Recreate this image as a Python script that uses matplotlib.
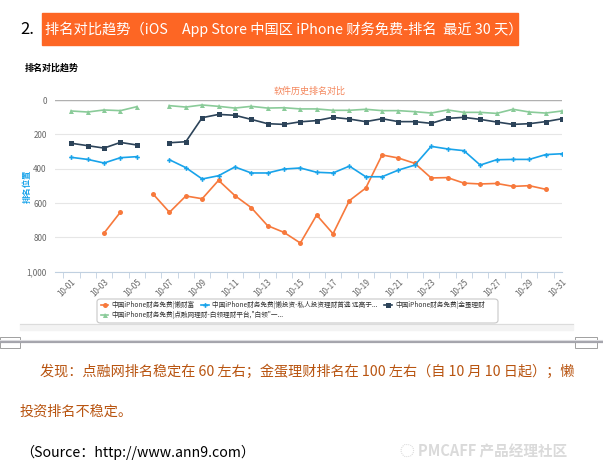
import numpy as np
import matplotlib.pyplot as plt
from matplotlib.patches import Rectangle, FancyBboxPatch
from matplotlib.lines import Line2D

plt.rcParams['font.family'] = ['Noto Sans CJK SC', 'DejaVu Sans']

# 数据：10-01 到 10-31 的排名（None 为缺失）
days = ['10-%02d' % d for d in range(1, 32)]
lan_caifu = [None, None, 775, 653, None, 548, 654, 559, 575, 468, 557, 627, 732, 771, 833,
             670, 779, 586, 513, 320, 338, 369, 454, 452, 484, 489, 486, 503, 499, 520, None]
lan_touzi = [334, 346, 367, 336, 330, None, 348, 394, 460, 441, 390, 425, 425, 402, 396,
             421, 425, 385, 447, 447, 408, 379, 270, 285, 295, 379, 348, 346, 346, 318, 313]
jindan = [252, 266, 280, 247, 262, None, 249, 243, 103, 84, 89, 113, 138, 142, 127,
          120, 101, 111, 126, 109, 126, 126, 136, 107, 101, 113, 128, 142, 138, 126, 109]
dianrong = [64, 70, 58, 62, 39, None, 33, 41, 29, 37, 47, 37, 47, 45, 52,
            52, 60, 60, 54, 62, 62, 68, 76, 58, 72, 72, 78, 54, 70, 76, 64]
names = ['中国iPhone财务免费|懒财富',
         '中国iPhone财务免费|懒投资-私人投资理财首选 远高于...',
         '中国iPhone财务免费|金蛋理财',
         '中国iPhone财务免费|点融网理财-白领理财平台,"白领"一...']

W, H = 603, 467
fig = plt.figure(figsize=(W / 100, H / 100), dpi=100)
fig.patch.set_facecolor('white')


def fx(x):
    return x / W


def fy(y):
    return 1 - y / H


# 标题栏
fig.text(fx(20), fy(29), '2.', fontsize=12, va='center', ha='left', color='black')
fig.add_artist(Rectangle((fx(42), fy(45)), 476 / W, 32 / H, transform=fig.transFigure,
                         color='#fd6624', zorder=0))
fig.text(fx(45), fy(29), '排名对比趋势（iOS　App Store 中国区 iPhone 财务免费-排名  最近 30 天）',
         fontsize=10.25, va='center', ha='left', color='white')

fig.text(fx(25), fy(68), '排名对比趋势', fontsize=6.5, fontweight='bold', va='center')
fig.text(fx(310), fy(91), '软件历史排名对比', fontsize=6.5, color='#f4855a', va='center', ha='center')

ax = fig.add_axes([fx(55), fy(271.7), (562 - 55) / W, (271.7 - 100) / H])
x = np.arange(len(days))


def arr(v):
    return np.array([np.nan if a is None else a for a in v], dtype=float)


styles = [('#f7793c', 'o', 3.6), ('#18a3ea', 'P', 3.4), ('#2c4359', 's', 3.6), ('#8acb99', '^', 3.6)]
series = [lan_caifu, lan_touzi, jindan, dianrong]
handles = []
for s, (c, m, ms), nm in zip(series, styles, names):
    h, = ax.plot(x, arr(s), color=c, marker=m, markersize=ms, linewidth=1.2,
                 markeredgewidth=0, label=nm)
    handles.append(h)

ax.set_xlim(-1, 30)
ax.set_ylim(1000, 0)
ax.set_yticks(range(0, 1001, 200))
ax.set_yticklabels(['0', '200', '400', '600', '800', '1,000'])
ax.grid(axis='y', color='#e6e6e6', linewidth=0.8)
ax.axhline(0, color='#b0b0b0', linewidth=1)
ax.set_xticks(x[::2])
ax.set_xticklabels(days[::2], rotation=45, ha='right', va='top', rotation_mode='anchor')
ax.set_xticks(np.arange(-0.5, 30, 1), minor=True)
ax.tick_params(axis='x', which='major', length=0, labelsize=5.8, labelcolor='#666666', pad=4)
ax.tick_params(axis='x', which='minor', length=4, color='#c0d0e0')
ax.tick_params(axis='y', length=0, labelsize=5.8, labelcolor='#666666', pad=6)
for sp in ['top', 'right', 'left']:
    ax.spines[sp].set_visible(False)
ax.spines['bottom'].set_color('#c0d0e0')
ax.set_ylabel('排名位置', color='#18a3ea', fontsize=6, fontweight='bold')
ax.yaxis.set_label_coords(-0.045, 0.5)

# 图例：按行排列，外加一个圆角框
leg_kw = dict(loc='upper left', fontsize=4.8, frameon=False, handlelength=1.1,
              handletextpad=0.5, columnspacing=1.0, borderpad=0, borderaxespad=0)
leg1 = fig.legend(handles[:3], names[:3], bbox_to_anchor=(fx(101), fy(301)), ncol=3, **leg_kw)
leg2 = fig.legend(handles[3:], names[3:], bbox_to_anchor=(fx(101), fy(311)), ncol=1, **leg_kw)
for lg in (leg1, leg2):
    for t in lg.get_texts():
        t.set_color('#333333')
fig.add_artist(FancyBboxPatch((fx(97), fy(323)), 401 / W, 24 / H, transform=fig.transFigure,
                              boxstyle='round,pad=0,rounding_size=0.006', fill=False,
                              edgecolor='#c8c8c8', linewidth=0.8))

# 图表下方的条与分隔线
fig.add_artist(Rectangle((fx(20), fy(330)), 553 / W, 6 / H, transform=fig.transFigure,
                         color='#f3f3f3', zorder=0))
fig.add_artist(Line2D([fx(20), fx(573)], [fy(324), fy(324)], color='#dcdcdc', linewidth=0.8))
fig.add_artist(Line2D([0, 1], [fy(342), fy(342)], color='#a4a4ac', linewidth=1.6))
fig.add_artist(Line2D([0, 1], [fy(340), fy(340)], color='#dcdce0', linewidth=0.8))
fig.add_artist(Rectangle((fx(0), fy(348)), 20 / W, 11 / H, transform=fig.transFigure,
                         fill=False, edgecolor='#a0a0a0', linewidth=0.7))
fig.add_artist(Rectangle((fx(575), fy(348)), 22 / W, 11 / H, transform=fig.transFigure,
                         fill=False, edgecolor='#a0a0a0', linewidth=0.7))

# 正文
fig.text(fx(40), fy(372), '发现：点融网排名稳定在 60 左右；金蛋理财排名在 100 左右（自 10 月 10 日起）；懒',
         fontsize=10.2, color='#b85410', va='center', ha='left')
fig.text(fx(20), fy(412), '投资排名不稳定。', fontsize=10.2, color='#b85410', va='center', ha='left')
fig.text(fx(20), fy(452), '（Source：http://www.ann9.com）', fontsize=10.2, color='black',
         va='center', ha='left')
fig.text(fx(400), fy(452), '◌ PMCAFF 产品经理社区', fontsize=10.5, color='#dadada',
         va='center', ha='left', fontweight='bold')

fig.savefig('out.png', dpi=100)
